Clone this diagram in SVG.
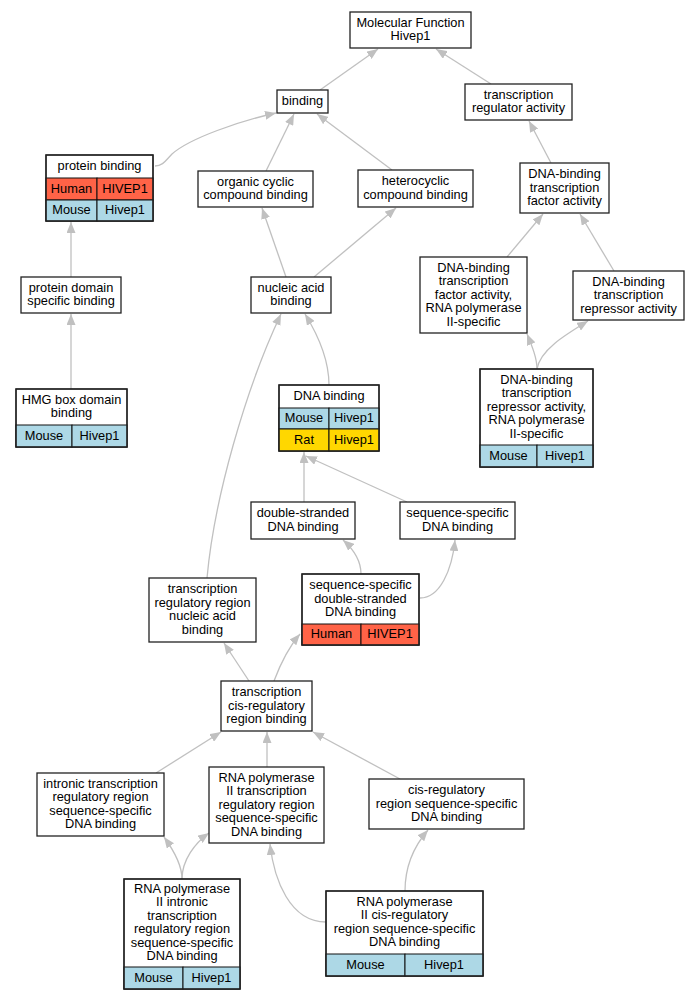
<svg xmlns="http://www.w3.org/2000/svg" width="699" height="1000" viewBox="0 0 699 1000">
<style>
text{font-family:"Liberation Sans",Arial,sans-serif;font-size:12.8px;fill:#000;text-anchor:middle}
.box{fill:#fff;stroke:#222;stroke-width:1.3}
.cell{stroke:#111;stroke-width:1}
.hu{fill:#ff6347}.mo{fill:#add8e6}.ra{fill:#ffd700}
.e{fill:none;stroke:#c0c0c0;stroke-width:1.3;marker-end:url(#ah)}
</style>
<defs>
<marker id="ah" viewBox="0 0 11 9" refX="11" refY="4.5" markerWidth="11" markerHeight="9" markerUnits="userSpaceOnUse" orient="auto">
<path d="M0,0 L11,4.5 L0,9 z" fill="#c0c0c0"/>
</marker>
</defs>
<rect width="699" height="1000" fill="#fff"/>
<g id="edges">
<path class="e" d="M320,90 L378,49"/>
<path class="e" d="M491,84 L436,49"/>
<path class="e" d="M155,166 C163,166 166,160 172,154 C190,138 240,121 276,113"/>
<path class="e" d="M266,171 L294,114"/>
<path class="e" d="M392,170 L317,114"/>
<path class="e" d="M551,163 L529,121"/>
<path class="e" d="M71,277 L71,222"/>
<path class="e" d="M286,277 L262,208"/>
<path class="e" d="M314,277 L396,208"/>
<path class="e" d="M71,389 L71,314"/>
<path class="e" d="M507,257 L543,214"/>
<path class="e" d="M614,271 L580,214"/>
<path class="e" d="M537,369 C537,358 532,346 527,334"/>
<path class="e" d="M537,369 C540,350 565,335 588,321"/>
<path class="e" d="M329,385 C329,360 318,335 305,314"/>
<path class="e" d="M207,578 C214,500 245,390 281,314"/>
<path class="e" d="M304,502 L304,452"/>
<path class="e" d="M407,502 L306,456"/>
<path class="e" d="M361,574 C361,560 352,548 343,540"/>
<path class="e" d="M420,598 C440,598 452,570 455,540"/>
<path class="e" d="M249,681 L224,643"/>
<path class="e" d="M274,681 C280,665 288,648 300,634"/>
<path class="e" d="M156,773 L221,732"/>
<path class="e" d="M267,767 L267,732"/>
<path class="e" d="M400,779 L313,732"/>
<path class="e" d="M182,879 C182,865 172,848 164,837"/>
<path class="e" d="M182,879 C182,860 195,843 209,833"/>
<path class="e" d="M326,922 C290,922 274,880 270,844"/>
<path class="e" d="M405,891 C405,865 415,845 428,830"/>
</g>
<g id="n1"><rect class="box" x="350" y="12" width="121" height="36"/><text x="410.5" y="26.8">Molecular Function</text><text x="410.5" y="40.3">Hivep1</text></g>
<g id="n2"><rect class="box" x="277" y="90" width="51" height="23"/><text x="302.5" y="105">binding</text></g>
<g id="n3"><rect class="box" x="465" y="84" width="107" height="36"/><text x="518.5" y="98.8">transcription</text><text x="518.5" y="112.3">regulator activity</text></g>
<g id="n4"><rect class="box" x="46" y="155" width="107" height="66"/>
<rect class="cell hu" x="46" y="178" width="51" height="22"/><rect class="cell hu" x="97" y="178" width="56" height="22"/>
<rect class="cell mo" x="46" y="200" width="51" height="21"/><rect class="cell mo" x="97" y="200" width="56" height="21"/>
<rect x="46" y="155" width="107" height="66" fill="none" stroke="#222" stroke-width="1.3"/>
<text x="99.5" y="170">protein binding</text><text x="71.5" y="192.5">Human</text><text x="125" y="192.5">HIVEP1</text><text x="71.5" y="214">Mouse</text><text x="125" y="214">Hivep1</text></g>
<g id="n5"><rect class="box" x="198" y="171" width="115" height="36"/><text x="255.5" y="185.8">organic cyclic</text><text x="255.5" y="199.3">compound binding</text></g>
<g id="n6"><rect class="box" x="358" y="170" width="115" height="37"/><text x="415.5" y="185.3">heterocyclic</text><text x="415.5" y="198.8">compound binding</text></g>
<g id="n7"><rect class="box" x="520" y="163" width="89" height="50"/><text x="564.5" y="178">DNA-binding</text><text x="564.5" y="191.5">transcription</text><text x="564.5" y="205">factor activity</text></g>
<g id="n8"><rect class="box" x="21" y="277" width="100" height="36"/><text x="71" y="291.8">protein domain</text><text x="71" y="305.3">specific binding</text></g>
<g id="n9"><rect class="box" x="251" y="277" width="80" height="36"/><text x="291" y="291.8">nucleic acid</text><text x="291" y="305.3">binding</text></g>
<g id="n10"><rect class="box" x="420" y="257" width="107" height="76"/><text x="473.5" y="271.5">DNA-binding</text><text x="473.5" y="285">transcription</text><text x="473.5" y="298.5">factor activity,</text><text x="473.5" y="312">RNA polymerase</text><text x="473.5" y="325.5">II-specific</text></g>
<g id="n11"><rect class="box" x="573" y="271" width="111" height="49"/><text x="628.5" y="285.5">DNA-binding</text><text x="628.5" y="299">transcription</text><text x="628.5" y="312.5">repressor activity</text></g>
<g id="n12"><rect class="box" x="16" y="389" width="111" height="58"/>
<rect class="cell mo" x="16" y="425" width="56" height="22"/><rect class="cell mo" x="72" y="425" width="55" height="22"/>
<rect x="16" y="389" width="111" height="58" fill="none" stroke="#222" stroke-width="1.3"/>
<text x="71.5" y="403.8">HMG box domain</text><text x="71.5" y="417.3">binding</text><text x="44" y="439.5">Mouse</text><text x="99.5" y="439.5">Hivep1</text></g>
<g id="n13"><rect class="box" x="279" y="385" width="100" height="66"/>
<rect class="cell mo" x="279" y="408" width="50" height="21"/><rect class="cell mo" x="329" y="408" width="50" height="21"/>
<rect class="cell ra" x="279" y="429" width="50" height="22"/><rect class="cell ra" x="329" y="429" width="50" height="22"/>
<rect x="279" y="385" width="100" height="66" fill="none" stroke="#222" stroke-width="1.3"/>
<text x="329" y="400">DNA binding</text><text x="304" y="422">Mouse</text><text x="354" y="422">Hivep1</text><text x="304" y="443.5">Rat</text><text x="354" y="443.5">Hivep1</text></g>
<g id="n14"><rect class="box" x="480" y="369" width="113" height="98"/>
<rect class="cell mo" x="480" y="445" width="57" height="22"/><rect class="cell mo" x="537" y="445" width="56" height="22"/>
<rect x="480" y="369" width="113" height="98" fill="none" stroke="#222" stroke-width="1.3"/>
<text x="536.5" y="383.5">DNA-binding</text><text x="536.5" y="397">transcription</text><text x="536.5" y="410.5">repressor activity,</text><text x="536.5" y="424">RNA polymerase</text><text x="536.5" y="437.5">II-specific</text>
<text x="508.5" y="459.5">Mouse</text><text x="565" y="459.5">Hivep1</text></g>
<g id="n15"><rect class="box" x="251" y="502" width="104" height="37"/><text x="303" y="517.3">double-stranded</text><text x="303" y="530.8">DNA binding</text></g>
<g id="n16"><rect class="box" x="400" y="502" width="115" height="37"/><text x="457.5" y="517.3">sequence-specific</text><text x="457.5" y="530.8">DNA binding</text></g>
<g id="n17"><rect class="box" x="149" y="578" width="107" height="64"/><text x="202.5" y="593.3">transcription</text><text x="202.5" y="606.8">regulatory region</text><text x="202.5" y="620.3">nucleic acid</text><text x="202.5" y="633.8">binding</text></g>
<g id="n18"><rect class="box" x="302" y="574" width="117" height="71"/>
<rect class="cell hu" x="302" y="624" width="59" height="21"/><rect class="cell hu" x="361" y="624" width="58" height="21"/>
<rect x="302" y="574" width="117" height="71" fill="none" stroke="#222" stroke-width="1.3"/>
<text x="360.5" y="589">sequence-specific</text><text x="360.5" y="602.5">double-stranded</text><text x="360.5" y="616">DNA binding</text>
<text x="331.5" y="638">Human</text><text x="390" y="638">HIVEP1</text></g>
<g id="n19"><rect class="box" x="221" y="681" width="91" height="50"/><text x="266.5" y="696">transcription</text><text x="266.5" y="709.5">cis-regulatory</text><text x="266.5" y="723">region binding</text></g>
<g id="n20"><rect class="box" x="37" y="773" width="127" height="63"/><text x="100.5" y="787.8">intronic transcription</text><text x="100.5" y="801.3">regulatory region</text><text x="100.5" y="814.8">sequence-specific</text><text x="100.5" y="828.3">DNA binding</text></g>
<g id="n21"><rect class="box" x="209" y="767" width="115" height="76"/><text x="266.5" y="781.5">RNA polymerase</text><text x="266.5" y="795">II transcription</text><text x="266.5" y="808.5">regulatory region</text><text x="266.5" y="822">sequence-specific</text><text x="266.5" y="835.5">DNA binding</text></g>
<g id="n22"><rect class="box" x="369" y="779" width="155" height="50"/><text x="446.5" y="794">cis-regulatory</text><text x="446.5" y="807.5">region sequence-specific</text><text x="446.5" y="821">DNA binding</text></g>
<g id="n23"><rect class="box" x="124" y="879" width="116" height="110"/>
<rect class="cell mo" x="124" y="967" width="59" height="22"/><rect class="cell mo" x="183" y="967" width="57" height="22"/>
<rect x="124" y="879" width="116" height="110" fill="none" stroke="#222" stroke-width="1.3"/>
<text x="182" y="892.8">RNA polymerase</text><text x="182" y="906.2">II intronic</text><text x="182" y="919.7">transcription</text><text x="182" y="933.2">regulatory region</text><text x="182" y="946.7">sequence-specific</text><text x="182" y="960.2">DNA binding</text>
<text x="153.5" y="981.5">Mouse</text><text x="211.5" y="981.5">Hivep1</text></g>
<g id="n24"><rect class="box" x="326" y="891" width="157" height="85"/>
<rect class="cell mo" x="326" y="954" width="79" height="22"/><rect class="cell mo" x="405" y="954" width="78" height="22"/>
<rect x="326" y="891" width="157" height="85" fill="none" stroke="#222" stroke-width="1.3"/>
<text x="404.5" y="905.8">RNA polymerase</text><text x="404.5" y="919.3">II cis-regulatory</text><text x="404.5" y="932.8">region sequence-specific</text><text x="404.5" y="946.3">DNA binding</text>
<text x="365.5" y="968.5">Mouse</text><text x="444" y="968.5">Hivep1</text></g>
</svg>
